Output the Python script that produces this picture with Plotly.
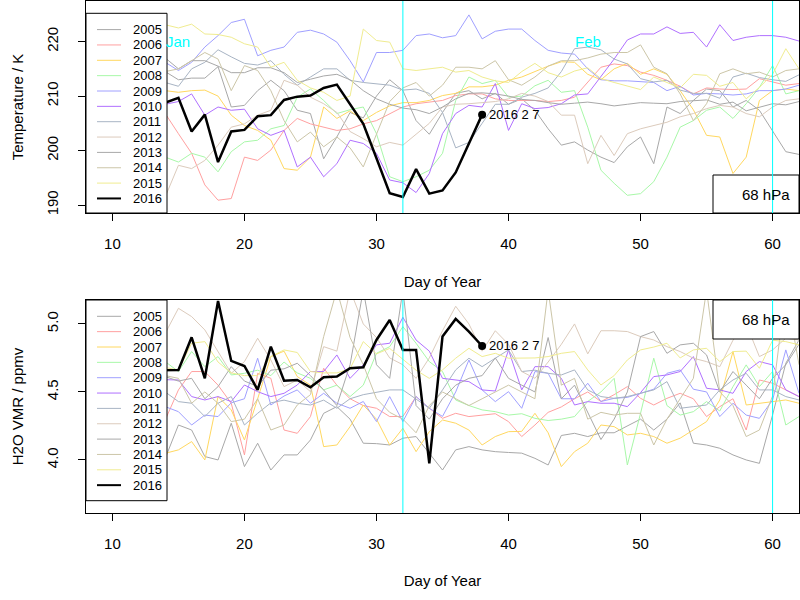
import plotly.graph_objects as go

# ---------------- data ----------------
days = list(range(13, 63))          # day of year for background years
days16 = list(range(13, 39))        # day of year for 2016

years = ["2005", "2006", "2007", "2008", "2009", "2010", "2011",
         "2012", "2013", "2014", "2015", "2016"]
colors = ["#a8a8a8", "#ffa0a0", "#ffd860", "#a8f8a8", "#a0a0ff", "#b070ff",
          "#a8b4c4", "#dccbbc", "#a8a8a8", "#ccc6a8", "#f0ec90", "#000000"]

# Temperature (K) at 68 hPa
t2005 = [214, 214.5, 213, 213.3, 213.3, 215.4, 208, 208.3, 211, 212.9, 211, 207.4, 206.8, 198.5, 202.5,
         207, 206, 210, 213, 211, 205.5, 203, 207, 210.5, 211, 209.5, 210.5, 208.5, 209.5, 207.4,
         204, 201, 201.6, 200.1, 198.8, 197.8, 200.7, 202.5, 197.6, 208, 206.8, 209.2, 211.3, 211,
         208, 209.2, 207.4, 203.7, 199.8, 199.3]
t2006 = [208, 206.8, 203.1, 199.5, 193.7, 190.9, 191.2, 198.8, 198.2, 200.1, 203.7, 205.9, 204.9, 204.3,
         203.7, 204, 204.9, 205.5, 206.8, 208, 208.6, 208.9, 209.2, 210.1, 210.4, 210.4, 209.5, 209.2,
         209.2, 209.2, 209, 209.2, 209.8, 212.5, 215.3, 215.9, 215.6, 214.4, 213.8, 212.9, 211.8, 210.4,
         211.5, 211.3, 211.2, 211.3, 213.2, 212.6, 212, 212.3]
t2007 = [211, 211, 210.7, 211, 211.1, 210, 206.5, 204.6, 203.7, 201.9, 196.7, 196.4, 198.8, 208, 205.9,
         207.3, 205.5, 207, 208.2, 208.8, 208.8, 209.2, 210.1, 210.5, 211.7, 211.7, 212, 212.9, 213.5,
         214.5, 215.5, 216.3, 216.2, 214, 213, 215, 216, 214, 215, 214, 211, 207.5, 202.8, 202.5, 195.8,
         198.8, 209.2, 211, 211.3, 211]
t2008 = [199, 198.8, 197.9, 199.5, 198.8, 196.1, 199.8, 201.6, 201.9, 204, 204.6, 209.8, 211.3, 209.2,
         206.8, 207.5, 208, 203.1, 195.2, 194.3, 195.2, 196.4, 199.5, 209.2, 213.5, 212.3, 212.9, 209.8,
         210, 211.9, 212.9, 210.7, 211, 204.3, 196.4, 194, 191.8, 192.1, 194.3, 198.8, 204.3, 205.5,
         207.4, 208, 205.9, 208.6, 211.6, 215.6, 210.4, 211]
t2009 = [216, 216.2, 214.7, 216.2, 219, 221.1, 223.5, 224.1, 217.4, 218.4, 219, 221.7, 222.1, 221.4,
         219.9, 216.5, 212.6, 218, 218, 218.4, 221.1, 221.4, 220.7, 221.1, 224.9, 220.5, 221.9, 222.3,
         222.3, 220.2, 218.4, 217.9, 217.7, 215, 213, 212.8, 212.8, 212.6, 212.5, 211, 211.8, 210.2,
         210.5, 210.4, 210.2, 210.4, 211, 211, 211.3, 212]
t2010 = [208, 208.5, 209, 210.4, 206.5, 208, 207.4, 207.6, 204, 202.8, 203.7, 197, 198.8, 195.2, 197.6,
         201.9, 201.3, 199.5, 194.6, 194.1, 192.3, 195.8, 203.1, 206.8, 208.3, 208, 212.3, 203.7, 208.6,
         207.7, 207.9, 208.6, 210.2, 210.4, 213.5, 216.8, 220.3, 221.4, 221.4, 222.7, 221.5, 221.7, 219,
         223.1, 220.2, 220.8, 221.1, 221.1, 220.8, 220.1]
t2011 = [212.5, 212.5, 211.8, 215, 216.2, 218.5, 217.2, 216, 215.7, 216.5, 214, 212, 213.5, 215, 215,
         212.9, 212.5, 212.3, 212, 211.1, 211.3, 210.5, 207, 200.5, 201.5, 205, 208.5, 208.5, 209.8,
         210.5, 211.5, 214.5, 218.7, 219, 218.5, 216.8, 215.9, 213.2, 212.6, 212.9, 211.1, 210.5, 210.5,
         209.6, 213.5, 214.2, 213.4, 213, 212.7, 213.9]
t2012 = [190, 191.5, 197.3, 196.7, 198.2, 201, 204.3, 204.9, 206.5, 207.4, 212.9, 212, 209.8, 208.6, 207,
         203.5, 202.2, 200.7, 201.5, 201, 203, 205, 208, 208.5, 208.6, 208.8, 209, 209.5, 210.5, 210,
         209, 206.5, 206.5, 197.6, 202.8, 199.1, 203.1, 204, 204.6, 205.2, 206.2, 206.8, 207.7, 208.3,
         208, 206.8, 206.2, 208, 209.2, 209.5]
t2013 = [216.5, 217, 215, 216.5, 216.5, 215.5, 214.3, 214.3, 215.2, 215.2, 214.3, 212.5, 213.1, 213.7,
         214, 213, 211, 209.5, 208.5, 207.8, 207.5, 206.8, 208, 209.5, 210.5, 210.6, 210.4, 210, 209.4,
         209.2, 208.8, 208.5, 208.7, 208.9, 208.6, 208.2, 208.5, 208.8, 208.7, 208.6, 209, 209.2, 209.3,
         208.5, 208.9, 207.3, 208, 208.6, 208.4, 209]
t2014 = [214, 214.5, 215, 216.5, 218, 216.8, 211, 215.6, 214.7, 211, 205.5, 201.6, 203.4, 200.7, 202.5,
         200.5, 197, 203, 209, 211.5, 212.5, 210, 212, 215.3, 215.3, 215, 216.5, 213, 212, 213.5, 215.5,
         216.5, 216.5, 217, 217.7, 218, 218, 219.4, 215.3, 214.1, 210.4, 205.5, 208.6, 214.1, 215,
         214.1, 214.4, 213.5, 214.7, 215]
t2015 = [223.5, 223.1, 222.5, 223.2, 221.4, 221.3, 220.8, 219.6, 219, 215.3, 216.2, 212.9, 211.5, 210.7,
         209.2, 210, 222.3, 220.2, 219.9, 215, 214.7, 215, 215.3, 214.4, 214.7, 213.5, 212.8, 212.5,
         214.5, 216, 214.3, 213.5, 214.6, 215.2, 213.2, 212.5, 211.9, 211.2, 213.5, 212.5, 211.5, 214,
         213.8, 211.8, 212.5, 209.5, 211.6, 214, 218.7, 215]
t2016 = [209, 208.8, 209.7, 203.5, 206.6, 197.9, 203.5, 203.8, 206.3, 206.5, 209.3, 209.9, 210.1, 211.5,
         212.1, 208.6, 204.9, 198.6, 192.2, 191.5, 196.6, 192.1, 192.7, 196.0, 201.2, 206.6]

# H2O volume mixing ratio (ppmv) at 68 hPa
w2005 = [4.1, 4.012, 4.257, 4.22, 4.025, 4.0, 4.27, 3.951, 4.123, 3.926, 4.037, 4.037, 4.147, 4.343,
         4.392, 4.3, 4.123, 4.12, 4.11, 4.16, 4.172, 4.05, 3.926, 4.074, 4.098, 4.074, 4.061, 4.055,
         4.05, 4.012, 3.963, 4.18, 4.196, 4.172, 4.2, 4.2, 4.25, 4.3, 4.22, 4.3, 4.42, 4.123, 4.11,
         4.086, 4.037, 4.0, 3.975, 4.331, 4.711, 4.882]
w2006 = [4.2, 4.294, 4.515, 4.65, 4.65, 4.55, 4.417, 4.037, 4.637, 4.6, 4.22, 4.196, 4.319, 4.674, 4.55,
         4.45, 4.4, 4.38, 4.319, 4.32, 4.466, 4.38, 4.306, 4.343, 4.319, 4.331, 4.34, 4.282, 4.172,
         4.257, 4.35, 4.39, 4.45, 4.5, 4.429, 4.48, 4.539, 4.453, 4.404, 4.453, 4.49, 4.45, 4.319,
         4.392, 4.45, 4.22, 4.588, 4.564, 4.515, 4.466]
w2007 = [4.0, 4.049, 4.074, 4.135, 4.0, 4.466, 4.368, 4.147, 4.45, 4.76, 4.8, 4.613, 4.55, 4.098, 4.11,
         4.245, 4.404, 4.3, 4.11, 4.233, 4.061, 4.208, 4.294, 4.27, 4.22, 4.11, 4.172, 4.208, 4.21,
         4.343, 4.2, 3.951, 4.061, 4.123, 4.257, 4.245, 4.184, 4.196, 4.172, 4.123, 4.16, 4.22, 4.282,
         4.441, 4.797, 4.404, 4.417, 4.429, 4.441, 4.417]
w2008 = [4.7, 4.723, 4.65, 4.797, 4.686, 4.76, 4.625, 4.637, 4.66, 4.62, 4.72, 4.64, 4.6, 4.515, 4.55,
         4.466, 4.55, 4.784, 4.833, 4.98, 4.858, 4.723, 4.65, 4.441, 4.4, 4.368, 4.355, 4.33, 4.34,
         4.306, 4.29, 4.3, 4.319, 4.43, 4.5, 4.6, 3.963, 4.343, 4.748, 4.4, 4.33, 4.355, 4.429, 4.36,
         4.539, 4.699, 4.539, 4.65, 4.257, 4.319]
w2009 = [4.4, 4.392, 4.355, 4.257, 4.33, 4.319, 4.42, 4.45, 4.748, 4.404, 4.47, 4.515, 4.417, 4.49,
         4.417, 4.38, 4.43, 4.282, 4.466, 4.282, 4.466, 4.38, 4.32, 4.5, 4.735, 4.515, 4.429, 4.502,
         4.38, 4.65, 4.637, 4.45, 4.45, 4.564, 4.43, 4.453, 4.46, 4.49, 4.52, 4.637, 4.662, 4.52, 4.5,
         4.319, 4.417, 4.33, 4.306, 4.441, 4.809, 4.49]
w2010 = [4.6, 4.59, 4.588, 4.466, 4.441, 4.466, 4.429, 4.551, 4.502, 4.466, 4.49, 4.551, 4.65, 4.65,
         4.772, 4.6, 4.7, 4.846, 4.858, 5.049, 4.882, 4.8, 4.6, 4.588, 4.576, 4.515, 4.507, 4.809, 4.515,
         4.686, 4.686, 4.6, 4.404, 4.429, 4.417, 4.417, 4.392, 4.495, 4.613, 4.625, 4.65, 4.76, 4.527,
         4.515, 4.49, 4.65, 4.723, 4.699, 4.515, 4.466]
w2011 = [4.5, 4.5, 4.429, 4.417, 4.319, 4.417, 4.466, 4.257, 4.343, 4.42, 4.44, 4.417, 4.404, 4.44, 4.38,
         4.45, 4.48, 4.5, 4.515, 4.515, 4.45, 4.38, 4.515, 4.662, 4.748, 4.686, 4.748, 4.809, 4.65, 4.66,
         4.637, 4.625, 4.662, 4.515, 4.466, 4.453, 4.466, 4.49, 4.515, 4.576, 4.38, 4.392, 4.404, 4.515,
         4.588, 4.637, 4.515, 4.515, 4.466, 4.441]
w2012 = [4.8, 4.931, 5.115, 5.054, 4.956, 4.797, 4.637, 4.723, 4.895, 4.735, 4.539, 4.588, 4.502, 4.833,
         4.8, 5.25, 5.0, 4.9, 4.75, 4.7, 4.6, 4.75, 4.95, 5.13, 5.0, 4.8, 4.95, 4.85, 4.65, 4.6, 4.72,
         4.85, 5.0, 4.78, 4.95, 4.95, 4.944, 4.907, 4.882, 4.833, 4.797, 4.748, 4.723, 4.686, 4.88, 5.0,
         4.76, 4.809, 4.895, 4.882]
w2013 = [4.6, 4.613, 4.58, 4.6, 4.45, 4.539, 4.686, 4.58, 4.54, 4.66, 4.67, 4.711, 4.62, 4.515, 4.4,
         4.7, 5.25, 4.7, 4.6, 5.25, 4.4, 4.3, 4.45, 4.55, 4.6, 4.62, 4.75, 4.6, 4.55, 4.5, 4.9, 4.45,
         4.55, 4.35, 4.15, 4.3, 4.5, 4.907, 4.944, 4.784, 4.846, 4.858, 4.772, 4.5, 4.65, 4.55, 4.45,
         4.6, 4.7, 4.85]
w2014 = [4.6, 4.62, 4.6, 4.417, 4.5, 4.417, 4.282, 4.3, 4.45, 4.22, 4.257, 4.404, 4.48, 4.907, 5.25, 4.9,
         4.7, 4.45, 4.35, 4.3, 4.2, 4.4, 4.5, 4.45, 4.4, 4.45, 4.5, 4.55, 4.5, 4.45, 5.25, 4.55, 4.6,
         4.3, 4.35, 4.33, 4.343, 4.343, 4.11, 4.3, 4.45, 4.6, 5.25, 4.5, 4.4, 4.172, 4.22, 4.47, 5.25, 4.7]
w2015 = [4.7, 4.68, 4.66, 4.858, 4.87, 4.72, 4.64, 4.62, 4.62, 4.76, 4.809, 4.79, 4.65, 4.64, 4.64,
         4.67, 4.87, 4.78, 4.82, 4.74, 4.66, 4.6, 4.662, 4.748, 4.821, 4.76, 4.784, 4.748, 4.75, 4.75,
         4.76, 4.784, 4.797, 4.662, 4.551, 4.62, 4.735, 4.809, 4.83, 4.858, 4.75, 4.809, 4.821, 4.723,
         4.797, 4.8, 4.674, 4.88, 4.87, 4.846]
w2016 = [4.66, 4.662, 4.662, 4.902, 4.60, 5.169, 4.728, 4.691, 4.515, 4.833, 4.583, 4.588, 4.534, 4.608,
         4.613, 4.674, 4.681, 4.882, 5.029, 4.809, 4.809, 3.975, 4.907, 5.037, 4.944, 4.838]

temp_ticks = [190, 200, 210, 220]
h2o_ticks = [4.0, 4.5, 5.0]
h2o_ticktext = ["4.0", "4.5", "5.0"]
day_ticks = [10, 20, 30, 40, 50, 60]
month_lines = [32, 60]
month_labels = ["Jan", "Feb"]
month_label_days = [15, 46]
level_label = "68 hPa"
last_date_label = "2016 2 7"

temp_series = [t2005, t2006, t2007, t2008, t2009, t2010, t2011, t2012, t2013, t2014, t2015]
h2o_series = [w2005, w2006, w2007, w2008, w2009, w2010, w2011, w2012, w2013, w2014, w2015]

# ---------------- layout geometry ----------------
W, H = 800, 600
ML, MR, MT, MB = 86, 1, 1, 87
PW = W - ML - MR
PH = H - MT - MB
FONT = "Liberation Sans"


def px(x):
    return (x - ML) / PW


def py(y):
    return (H - MB - y) / PH


fig = go.Figure()

for s, c in zip(temp_series, colors[:-1]):
    fig.add_trace(go.Scatter(x=days, y=s, mode="lines", line=dict(color=c, width=1),
                             showlegend=False, hoverinfo="skip", xaxis="x", yaxis="y"))
fig.add_trace(go.Scatter(x=days16, y=t2016, mode="lines", line=dict(color="black", width=2.5),
                         showlegend=False, hoverinfo="skip", xaxis="x", yaxis="y"))
fig.add_trace(go.Scatter(x=[days16[-1]], y=[t2016[-1]], mode="markers",
                         marker=dict(color="black", size=8), showlegend=False,
                         hoverinfo="skip", xaxis="x", yaxis="y"))

for s, c in zip(h2o_series, colors[:-1]):
    fig.add_trace(go.Scatter(x=days, y=s, mode="lines", line=dict(color=c, width=1),
                             showlegend=False, hoverinfo="skip", xaxis="x2", yaxis="y2"))
fig.add_trace(go.Scatter(x=days16, y=w2016, mode="lines", line=dict(color="black", width=2.5),
                         showlegend=False, hoverinfo="skip", xaxis="x2", yaxis="y2"))
fig.add_trace(go.Scatter(x=[days16[-1]], y=[w2016[-1]], mode="markers",
                         marker=dict(color="black", size=8), showlegend=False,
                         hoverinfo="skip", xaxis="x2", yaxis="y2"))

axis_common = dict(showline=True, mirror=True, linecolor="black", linewidth=1,
                   ticks="outside", ticklen=7, tickcolor="black", tickwidth=1,
                   showgrid=False, zeroline=False, automargin=False,
                   tickfont=dict(family=FONT, size=15, color="black"))

shapes = []
annotations = []


def add_legend(top, bottom):
    shapes.append(dict(type="rect", xref="paper", yref="paper",
                       x0=px(86), x1=px(167), y0=py(bottom), y1=py(top),
                       fillcolor="white", line=dict(color="black", width=1), layer="above"))
    first = top + 16.3
    step = 15.35
    for i, (yr, c) in enumerate(zip(years, colors)):
        yy = first + i * step
        shapes.append(dict(type="line", xref="paper", yref="paper",
                           x0=px(97), x1=px(121), y0=py(yy), y1=py(yy),
                           line=dict(color=c, width=2 if yr == "2016" else 1), layer="above"))
        annotations.append(dict(text=yr, xref="paper", yref="paper", x=px(131), y=py(yy),
                                xanchor="left", yanchor="middle", showarrow=False,
                                font=dict(family=FONT, size=13, color="black")))


def add_level_box(top, bottom):
    shapes.append(dict(type="rect", xref="paper", yref="paper",
                       x0=px(713), x1=px(799), y0=py(bottom), y1=py(top),
                       fillcolor="white", line=dict(color="black", width=1), layer="above"))
    annotations.append(dict(text=level_label, xref="paper", yref="paper", x=px(792),
                            y=py((top + bottom) / 2), xanchor="right", yanchor="middle",
                            showarrow=False, font=dict(family=FONT, size=15, color="black")))


add_legend(13.3, 213)
add_level_box(175, 213)
add_legend(300, 500.7)
add_level_box(300, 339)

for ax_y in ["y domain", "y2 domain"]:
    xr = "x" if ax_y == "y domain" else "x2"
    for d in month_lines:
        shapes.append(dict(type="line", xref=xr, yref=ax_y, x0=d, x1=d, y0=0, y1=1,
                           line=dict(color="#00ffff", width=1), layer="above"))

for lab, d in zip(month_labels, month_label_days):
    annotations.append(dict(text=lab, x=d, y=220, xref="x", yref="y", showarrow=False,
                            xanchor="center", yanchor="middle",
                            font=dict(family=FONT, size=15, color="#00ffff")))

for xr, yr, val in [("x", "y", t2016[-1]), ("x2", "y2", w2016[-1])]:
    annotations.append(dict(text=last_date_label, x=days16[-1], y=val, xref=xr, yref=yr,
                            showarrow=False, xanchor="left", yanchor="middle", xshift=5,
                            font=dict(family=FONT, size=13, color="black")))

top_dom = [py(213), py(MT)]
bot_dom = [0, py(300)]

fig.update_layout(
    width=W, height=H,
    margin=dict(l=ML, r=MR, t=MT, b=MB, pad=0, autoexpand=False),
    paper_bgcolor="white", plot_bgcolor="white",
    showlegend=False,
    font=dict(family=FONT, size=15, color="black"),
    xaxis=dict(axis_common, domain=[0, 1], range=[8, 62], tickvals=day_ticks,
               anchor="y", ticklabelstandoff=10,
               title=dict(text="Day of Year", font=dict(family=FONT, size=15), standoff=25)),
    yaxis=dict(axis_common, domain=top_dom, range=[188.55, 227.45], tickvals=temp_ticks,
               tickangle=-90, anchor="x", ticklabelstandoff=14,
               title=dict(text="Temperature / K", font=dict(family=FONT, size=15), standoff=16)),
    xaxis2=dict(axis_common, domain=[0, 1], range=[8, 62], tickvals=day_ticks,
                anchor="y2", ticklabelstandoff=10,
                title=dict(text="Day of Year", font=dict(family=FONT, size=15), standoff=24)),
    yaxis2=dict(axis_common, domain=bot_dom, range=[3.61, 5.176], tickvals=h2o_ticks,
                ticktext=h2o_ticktext, tickangle=-90, anchor="x2", ticklabelstandoff=14,
                title=dict(text="H2O VMR / ppmv", font=dict(family=FONT, size=15), standoff=16)),
    shapes=shapes,
    annotations=annotations,
)

fig.write_html("out.html", config={"displayModeBar": False},
               post_script="document.body.style.margin='0px';")
